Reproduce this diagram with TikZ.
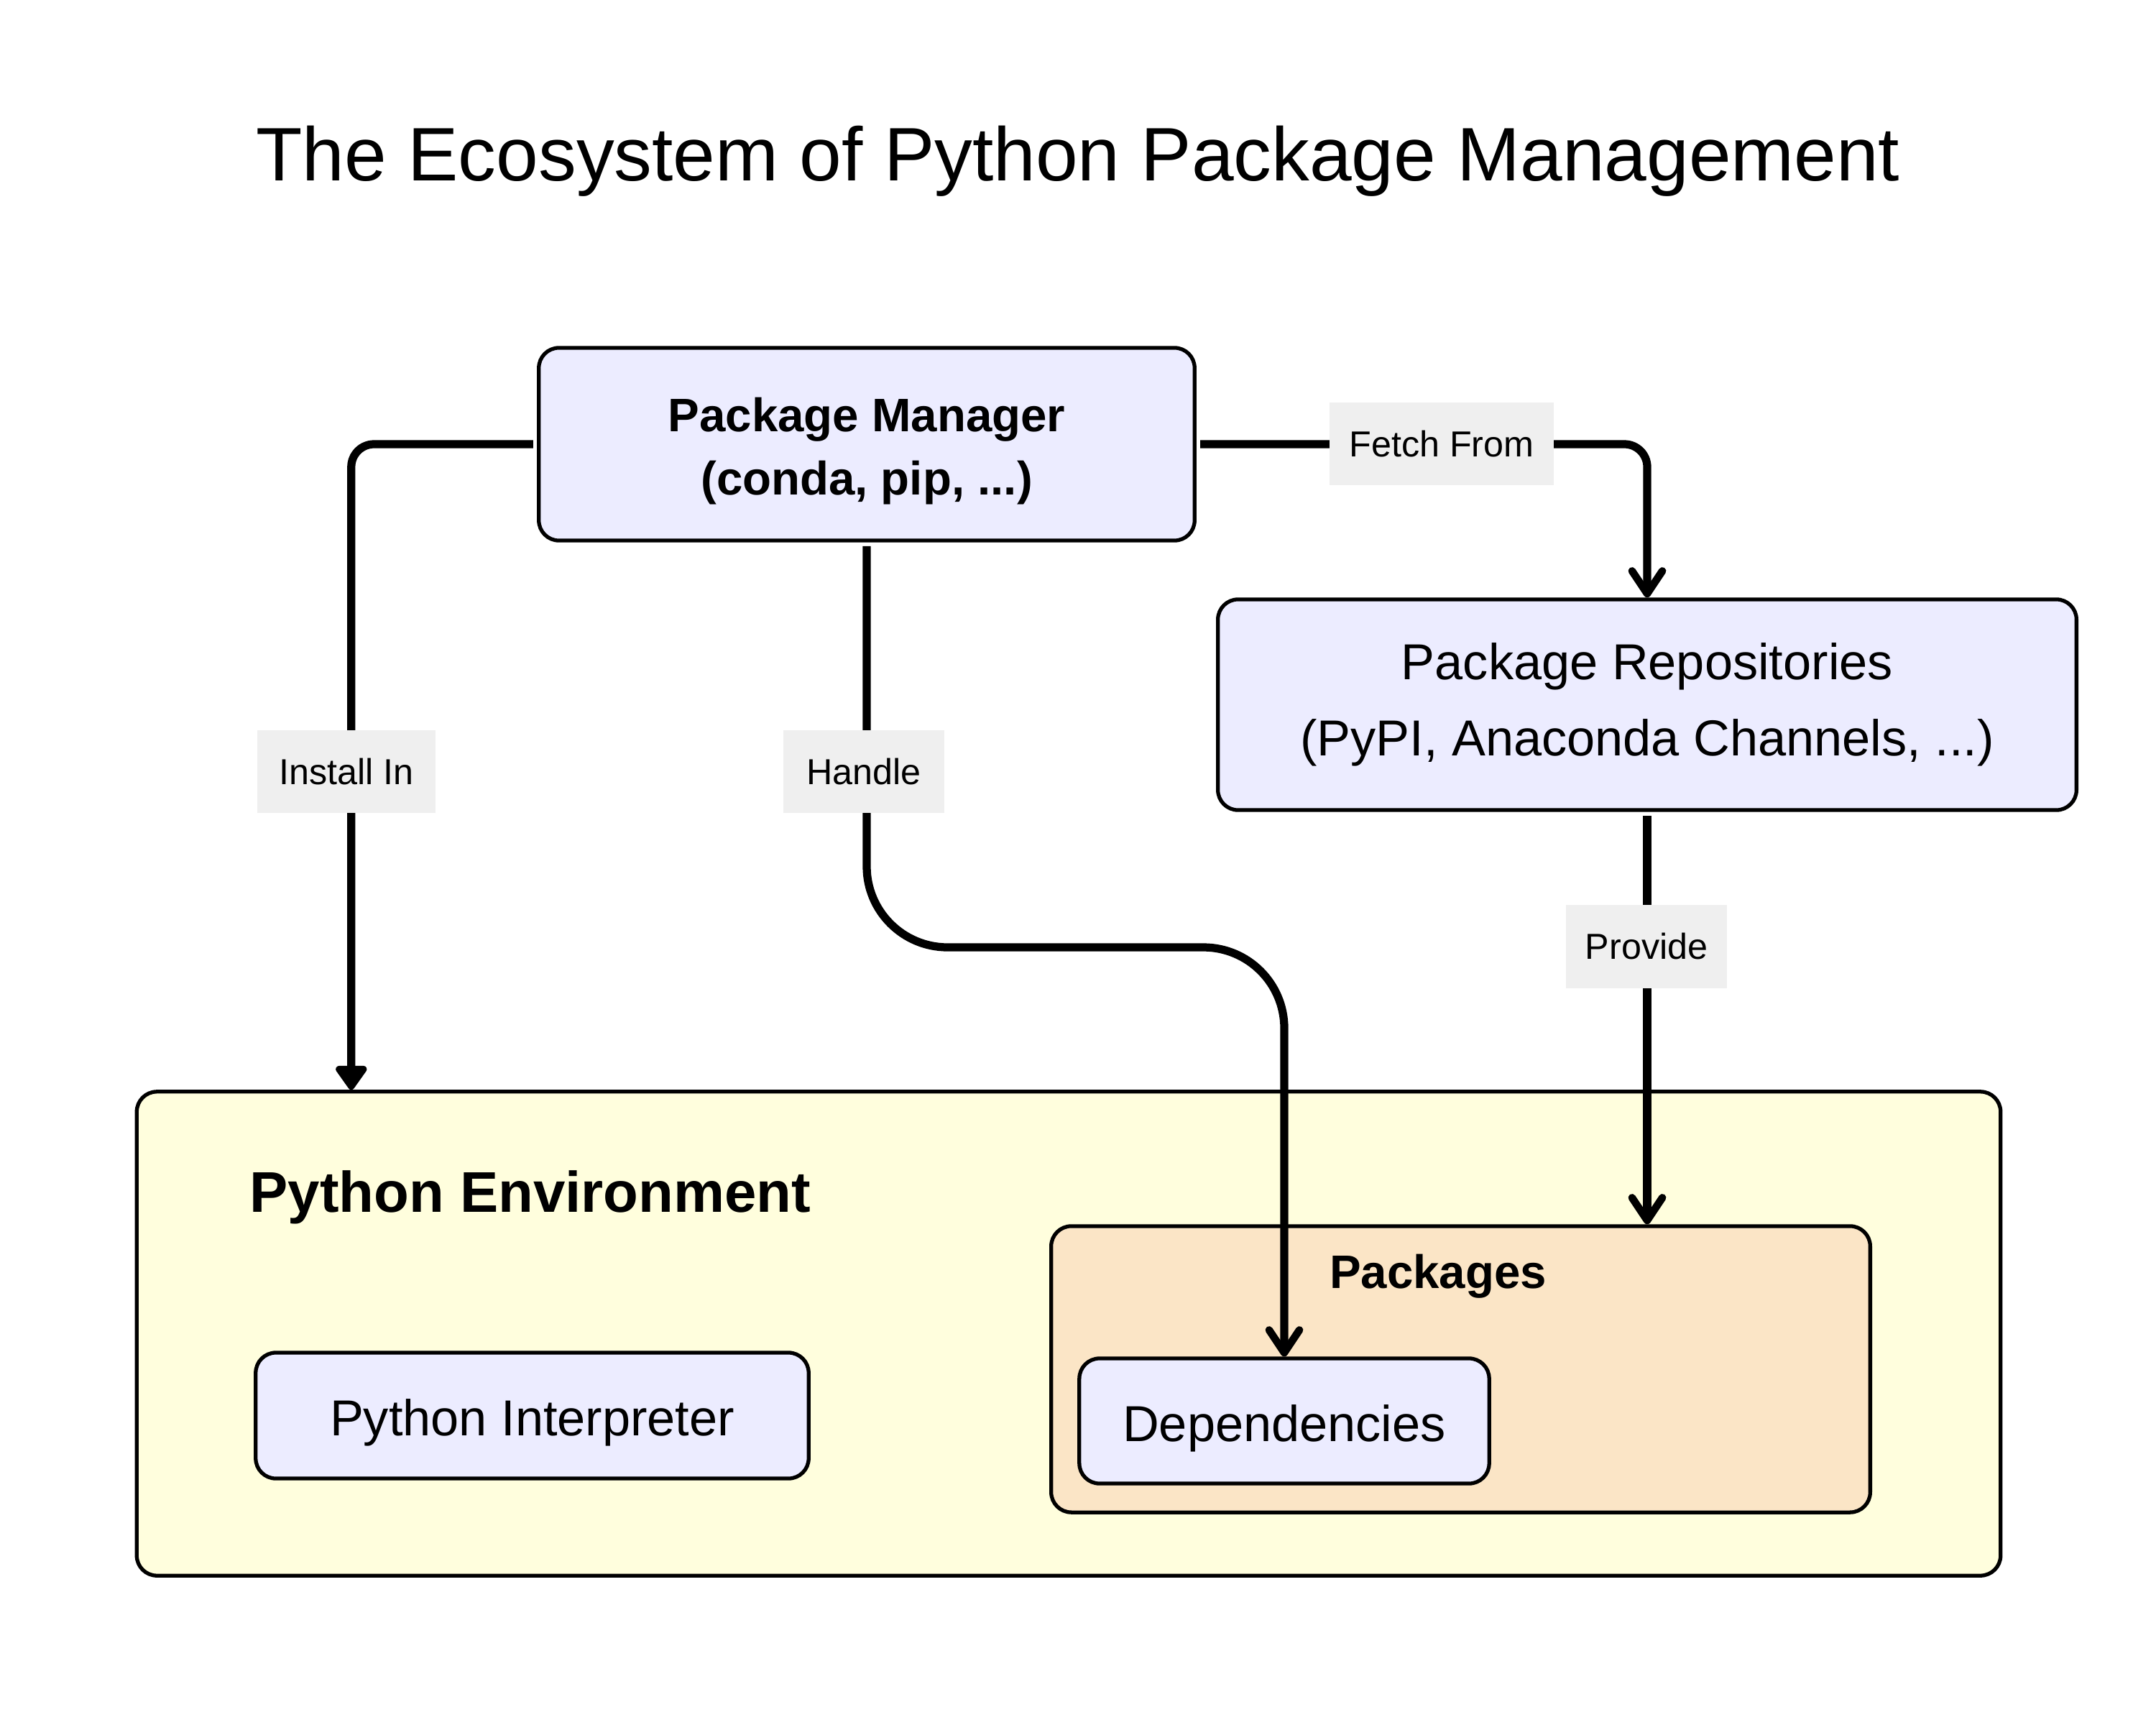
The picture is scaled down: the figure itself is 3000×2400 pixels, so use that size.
\documentclass[tikz,border=0pt]{standalone}
\usepackage{fontspec}
\setmainfont{Liberation Sans}
\usetikzlibrary{arrows.meta}
\definecolor{boxfill}{HTML}{ECECFF}
\definecolor{envfill}{HTML}{FFFEDD}
\definecolor{pkgfill}{HTML}{FBE5C6}
\definecolor{lblfill}{HTML}{EFEFEF}
\tikzset{
  box/.style={draw=black, line width=1.5pt, rounded corners=8pt, fill=boxfill, align=center, inner sep=0pt},
  envbox/.style={draw=black, line width=1.5pt, rounded corners=8pt, fill=envfill, inner sep=0pt},
  pkgbox/.style={draw=black, line width=1.5pt, rounded corners=8pt, fill=pkgfill, inner sep=0pt},
  boxtext/.style={align=center, inner sep=0pt, yshift=-2.8pt},
  lbl/.style={fill=lblfill, inner sep=0pt, font=\fontsize{14.3}{17}\selectfont},
  edge/.style={line width=3.2pt, black},
  openarrow/.style={-{Straight Barb[length=9pt,width=12pt,line width=3pt,line cap=round,round]}},
  filledarrow/.style={-{Triangle[length=10.5pt,width=14pt,round]}},
}
\begin{document}
\begin{tikzpicture}[x=0.01cm,y=-0.01cm]
\useasboundingbox[fill=white] (0,0) rectangle (3000,2400);

\node[font=\fontsize{30}{36}\selectfont] (title) at (1500,224) {The Ecosystem of Python Package Management};

\node[envbox, minimum width=25.92cm, minimum height=6.73cm] (env) at (1487,1855.5) {};
\node[anchor=west, font=\fontsize{22.7}{27}\selectfont\bfseries] (envlbl) at (335,1666) {Python Environment};
\node[box, minimum width=7.69cm, minimum height=1.75cm,
  label={[boxtext, name=interptext, font=\fontsize{20}{24}\selectfont]center:Python Interpreter}] (interp) at (740.5,1969.5) {};
\node[pkgbox, minimum width=11.39cm, minimum height=3.98cm] (pkgs) at (2032.5,1905) {};
\node[font=\fontsize{18.6}{22}\selectfont\bfseries] (pkglbl) at (2001,1776) {Packages};
\node[box, minimum width=5.70cm, minimum height=1.74cm,
  label={[boxtext, name=depstext, font=\fontsize{20}{24}\selectfont]center:Dependencies}] (deps) at (1787,1977) {};

\node[box, minimum width=9.12cm, minimum height=2.68cm,
  label={[boxtext, name=pmtext, font=\fontsize{18.6}{25}\selectfont\bfseries]center:Package Manager\\(conda, pip, ...)}] (pm) at (1206,618) {};
\node[box, minimum width=11.94cm, minimum height=2.93cm, font=\fontsize{20}{30}\selectfont] (repos) at (2292,980.5) {Package Repositories\\(PyPI, Anaconda Channels, ...)};

\coordinate (envin) at ([xshift=3.01cm]env.north west);
\coordinate (hmid) at (1500,1318);

\draw[edge, filledarrow, rounded corners=9pt, shorten <=1.5pt] (pm.west) -| (envin);
\draw[edge, openarrow, rounded corners=9pt, shorten <=1.5pt] (pm.east) -| (repos.north);
\draw[edge, openarrow, rounded corners=32pt, shorten <=1.5pt] (pm.south) |- (hmid) -| (deps.north);
\draw[edge, openarrow, shorten <=1.5pt] (repos.south) -- (repos.south |- pkgs.north);

\node[lbl, minimum width=3.12cm, minimum height=1.15cm] (lfetch) at (2006,617.5) {Fetch From};
\node[lbl, minimum width=2.48cm, minimum height=1.15cm] (linstall) at (482,1073.5) {Install In};
\node[lbl, minimum width=2.24cm, minimum height=1.15cm] (lhandle) at (1202,1073.5) {Handle};
\node[lbl, minimum width=2.24cm, minimum height=1.16cm] (lprovide) at (2291,1317) {Provide};
\end{tikzpicture}
\end{document}
